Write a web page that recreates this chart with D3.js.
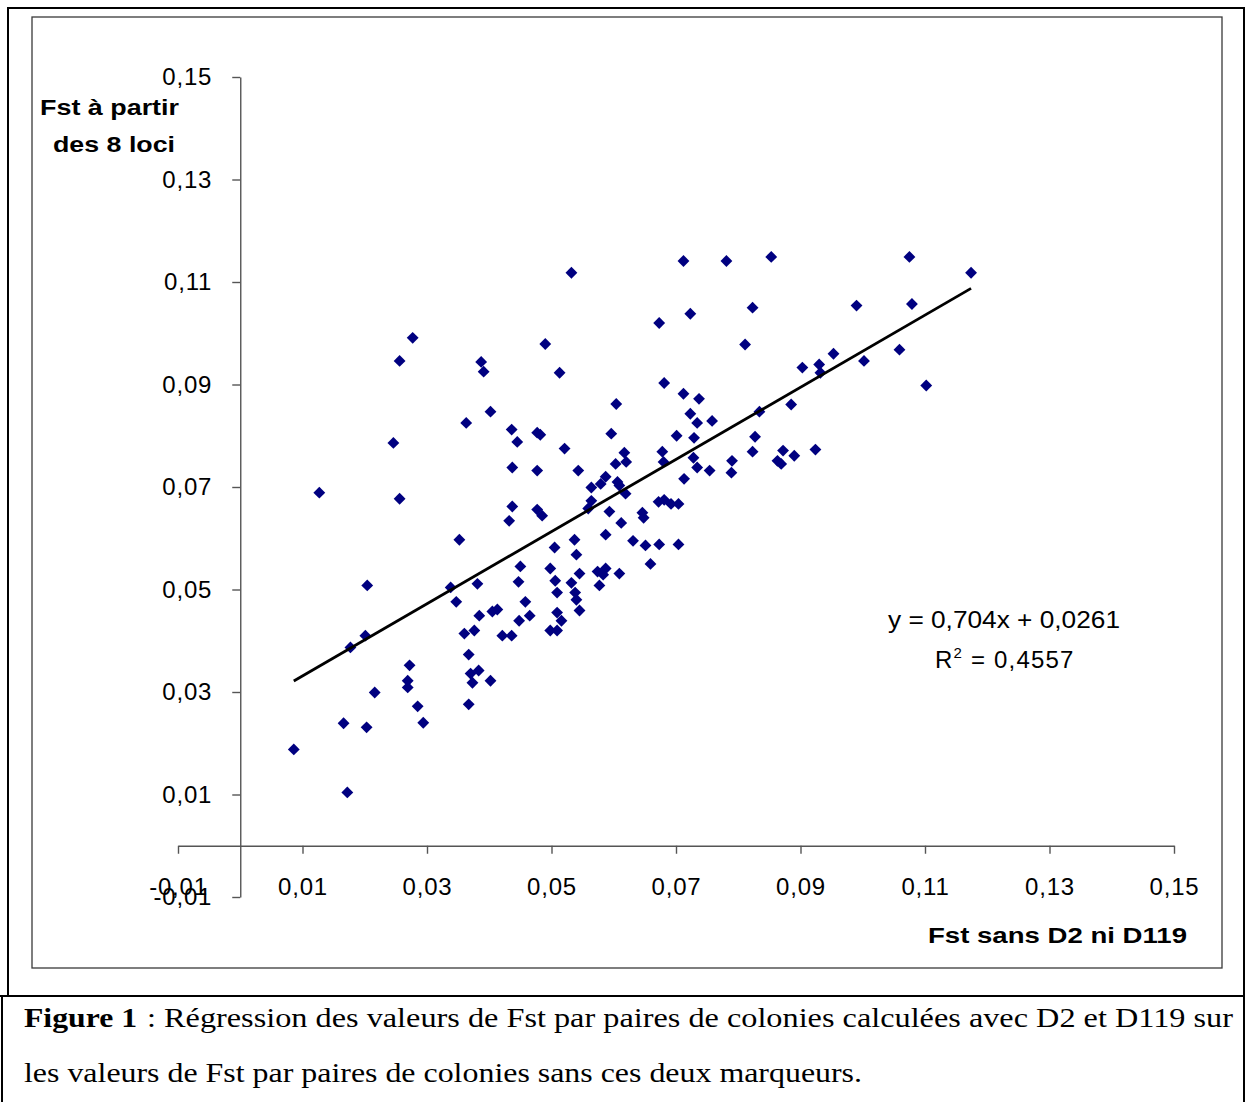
<!DOCTYPE html>
<html><head><meta charset="utf-8">
<script src="https://cdn.jsdelivr.net/npm/d3@7"></script>
<style>body{margin:0;background:#fff}</style>
</head><body><svg id="c" width="1245" height="1102"></svg>
<script>
const xValues = [
0.0086,0.0127,0.0166,0.0172,0.0177,0.0201,0.0203,0.0204,0.0216,0.0246,
0.0256,0.0256,0.0272,0.0269,0.0269,0.0277,0.0285,0.0294,0.0338,0.0347,
0.0352,0.0363,0.0367,0.0360,0.0367,0.0370,0.0373,0.0376,0.0383,0.0381,
0.0384,0.0387,0.0391,0.0402,0.0402,0.0405,0.0413,0.0421,0.0436,0.0436,
0.0437,0.0437,0.0432,0.0445,0.0447,0.0448,0.0450,0.0458,0.0465,0.0477,
0.0477,0.0482,0.0477,0.0485,0.0490,0.0498,0.0498,0.0505,0.0506,0.0509,
0.0509,0.0509,0.0513,0.0516,0.0521,0.0532,0.0532,0.0540,0.0537,0.0538,
0.0540,0.0545,0.0543,0.0545,0.0559,0.0564,0.0564,0.0574,0.0577,0.0579,
0.0583,0.0587,0.0587,0.0587,0.0593,0.0596,0.0604,0.0603,0.0606,0.0609,
0.0609,0.0612,0.0617,0.0620,0.0619,0.0631,0.0646,0.0648,0.0651,0.0659,
0.0673,0.0673,0.0672,0.0678,0.0680,0.0681,0.0681,0.0692,0.0704,0.0701,
0.0704,0.0712,0.0712,0.0713,0.0723,0.0723,0.0728,0.0729,0.0734,0.0734,
0.0737,0.0754,0.0758,0.0781,0.0789,0.0790,0.0811,0.0823,0.0823,0.0827,
0.0834,0.0853,0.0863,0.0869,0.0872,0.0885,0.0890,0.0903,0.0924,0.0930,
0.0932,0.0953,0.0990,0.1002,0.1059,0.1075,0.1079,0.1102,0.1174];
const yValues = [
0.0188,0.0689,0.0239,0.0104,0.0387,0.0410,0.0231,0.0508,0.0299,0.0786,
0.0946,0.0677,0.0352,0.0322,0.0309,0.0991,0.0272,0.0240,0.0504,0.0476,
0.0597,0.0825,0.0276,0.0414,0.0373,0.0336,0.0318,0.0420,0.0342,0.0511,
0.0449,0.0944,0.0925,0.0322,0.0847,0.0457,0.0461,0.0410,0.0410,0.0812,
0.0738,0.0662,0.0634,0.0788,0.0515,0.0439,0.0545,0.0476,0.0449,0.0732,
0.0806,0.0802,0.0656,0.0644,0.0979,0.0420,0.0541,0.0582,0.0517,0.0494,
0.0455,0.0420,0.0923,0.0439,0.0775,0.1118,0.0513,0.0568,0.0597,0.0494,
0.0480,0.0459,0.0732,0.0531,0.0658,0.0673,0.0699,0.0535,0.0508,0.0706,
0.0529,0.0720,0.0607,0.0541,0.0652,0.0804,0.0862,0.0745,0.0710,0.0531,
0.0703,0.0630,0.0767,0.0749,0.0687,0.0595,0.0650,0.0640,0.0586,0.0550,
0.0588,0.1020,0.0671,0.0769,0.0749,0.0903,0.0675,0.0667,0.0667,0.0800,
0.0588,0.1141,0.0882,0.0716,0.0843,0.1038,0.0757,0.0796,0.0825,0.0738,
0.0872,0.0732,0.0829,0.1141,0.0728,0.0751,0.0978,0.1050,0.0769,0.0798,
0.0847,0.1149,0.0751,0.0745,0.0771,0.0861,0.0761,0.0933,0.0773,0.0939,
0.0923,0.0960,0.1054,0.0946,0.0968,0.1149,0.1057,0.0898,0.1118];
const xTicks = [-0.01,0.01,0.03,0.05,0.07,0.09,0.11,0.13,0.15];
const yTicks = [-0.01,0.01,0.03,0.05,0.07,0.09,0.11,0.13,0.15];
const slope = 0.704, intercept = 0.0261;
const eqText = "y = 0,704x + 0,0261";
const r2Text = "0,4557";
const xTitle = "Fst sans D2 ni D119";
const yTitle = ["Fst à partir", "des 8 loci"];
const capBold = "Figure 1";
const capLine1 = ": Régression des valeurs de Fst par paires de colonies calculées avec D2 et D119 sur";
const capLine2 = "les valeurs de Fst par paires de colonies sans ces deux marqueurs.";

const svg = d3.select("#c");
const SANS = "'Liberation Sans', Arial, sans-serif";
const SERIF = "'Liberation Serif', 'Times New Roman', serif";

svg.append("rect").attr("width",1245).attr("height",1102).attr("fill","#fff");
// frames
svg.append("rect").attr("x",8).attr("y",8).attr("width",1236).attr("height",988)
  .attr("fill","none").attr("stroke","#000").attr("stroke-width",2);
svg.append("line").attr("x1",0).attr("x2",1245).attr("y1",996).attr("y2",996).attr("stroke","#000").attr("stroke-width",2);
svg.append("line").attr("x1",2).attr("x2",2).attr("y1",996).attr("y2",1102).attr("stroke","#000").attr("stroke-width",2);
svg.append("line").attr("x1",1244).attr("x2",1244).attr("y1",996).attr("y2",1102).attr("stroke","#000").attr("stroke-width",2);
svg.append("rect").attr("x",32).attr("y",17).attr("width",1190).attr("height",951)
  .attr("fill","none").attr("stroke","#3a3a3a").attr("stroke-width",1.3);

const x = d3.scaleLinear().domain([-0.01,0.15]).range([178,1174]);
const y = d3.scaleLinear().domain([-0.01,0.15]).range([897,77]);
const loc = d3.formatLocale({decimal:",",thousands:" ",grouping:[3],currency:["",""],minus:"-"});
const fmt = loc.format(".2f");

const gx = svg.append("g").attr("transform",`translate(0,${y(0)})`)
  .call(d3.axisBottom(x).tickValues(xTicks).tickFormat(fmt).tickSizeInner(8).tickSizeOuter(0).tickPadding(24));
const gy = svg.append("g").attr("transform",`translate(${x(0)},0)`)
  .call(d3.axisLeft(y).tickValues(yTicks).tickFormat(fmt).tickSizeInner(8).tickSizeOuter(0).tickPadding(20));
[gx,gy].forEach(g=>{
  g.select(".domain").attr("stroke","#555").attr("stroke-width",1.4);
  g.selectAll(".tick line").attr("stroke","#555").attr("stroke-width",1.4);
  g.selectAll(".tick text").attr("fill","#000").style("font-family",SANS).style("font-size","24px").style("letter-spacing","0.8px");
});

// points
const pts = d3.zip(xValues, yValues);
svg.append("g").selectAll("path").data(pts).join("path")
  .attr("d", d3.symbol(d3.symbolSquare, 70))
  .attr("transform", d=>`translate(${x(d[0])},${y(d[1])}) rotate(45)`)
  .attr("fill","#000080");

// trendline
const ext = d3.extent(xValues);
svg.append("path").datum(ext.map(v=>[v, slope*v+intercept]))
  .attr("d", d3.line().x(d=>x(d[0])).y(d=>y(d[1])))
  .attr("stroke","#000").attr("stroke-width",2.8).attr("fill","none");

// equation
svg.append("text").attr("x",888).attr("y",628).text(eqText)
  .style("font-family",SANS).style("font-size","24px").attr("textLength",232).attr("lengthAdjust","spacingAndGlyphs");
const r2 = svg.append("text").attr("x",935).attr("y",668).style("font-family",SANS).style("font-size","24px").style("letter-spacing","1.2px");
r2.append("tspan").text("R");
r2.append("tspan").attr("dy",-10).style("font-size","15px").text("2");
r2.append("tspan").attr("dy",10).text(" = " + r2Text);

// axis titles
svg.append("text").attr("x",40).attr("y",115).text(yTitle[0])
  .style("font-family",SANS).style("font-weight","bold").style("font-size","22px")
  .attr("textLength",139).attr("lengthAdjust","spacingAndGlyphs");
svg.append("text").attr("x",53).attr("y",152).text(yTitle[1])
  .style("font-family",SANS).style("font-weight","bold").style("font-size","22px")
  .attr("textLength",122).attr("lengthAdjust","spacingAndGlyphs");
svg.append("text").attr("x",928).attr("y",943).text(xTitle)
  .style("font-family",SANS).style("font-weight","bold").style("font-size","22px")
  .attr("textLength",259).attr("lengthAdjust","spacingAndGlyphs");

// caption
svg.append("text").attr("x",24).attr("y",1027).text(capBold)
  .style("font-family",SERIF).style("font-weight","bold").style("font-size","28px")
  .attr("textLength",113).attr("lengthAdjust","spacingAndGlyphs");
svg.append("text").attr("x",147).attr("y",1027).text(capLine1)
  .style("font-family",SERIF).style("font-size","28px")
  .attr("textLength",1086).attr("lengthAdjust","spacingAndGlyphs");
svg.append("text").attr("x",24).attr("y",1082).text(capLine2)
  .style("font-family",SERIF).style("font-size","28px")
  .attr("textLength",838).attr("lengthAdjust","spacingAndGlyphs");
</script></body></html>
